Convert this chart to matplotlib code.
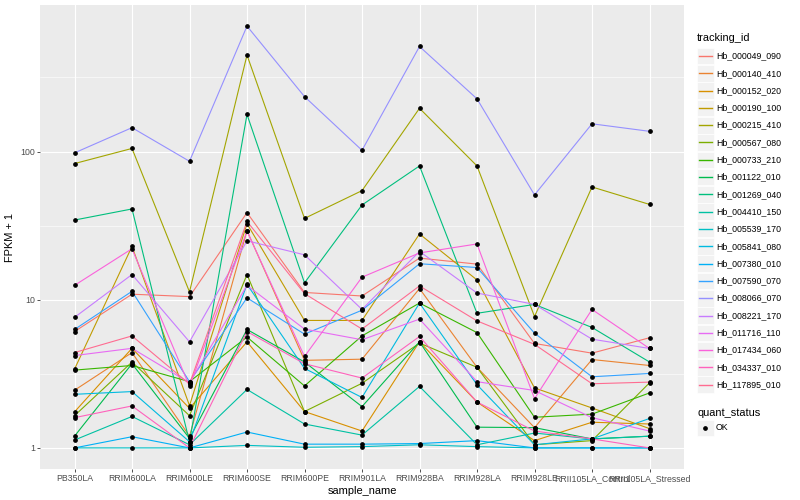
import numpy as np
import matplotlib.pyplot as plt
from matplotlib.patches import Rectangle
from matplotlib.lines import Line2D

plt.rcParams['font.family'] = ['Liberation Sans', 'DejaVu Sans']

# sample names on the x axis
samples = ['PB350LA', 'RRIM600LA', 'RRIM600LE', 'RRIM600SE', 'RRIM600PE',
           'RRIM901LA', 'RRIM928BA', 'RRIM928LA', 'RRIM928LE',
           'RRII105LA_Control', 'RRII105LA_Stressed']

# FPKM + 1 per gene
hb_000049_090 = [6.1, 10.9, 10.5, 38.7, 11.2, 10.6, 19.1, 17.4, 5.07, 4.36, 5.54]
hb_000140_410 = [2.45, 4.4, 1.2, 29.3, 3.9, 3.97, 11.9, 3.5, 1.37, 3.95, 3.6]
hb_000152_020 = [1.75, 4.7, 1.85, 5.2, 1.76, 1.30, 5.2, 2.04, 1.12, 1.49, 1.45]
hb_000190_100 = [3.4, 22.9, 1.93, 32.6, 7.25, 7.25, 27.8, 13.6, 2.54, 1.86, 1.35]
hb_000215_410 = [83, 105, 11.3, 448, 35.4, 54.5, 196, 80, 7.7, 57.7, 44]
hb_000567_080 = [1.65, 3.8, 1.65, 14.8, 1.76, 2.73, 5.1, 3.5, 1.05, 1.12, 2.75]
hb_000733_210 = [3.35, 3.6, 2.8, 5.6, 2.62, 5.7, 9.5, 6.0, 1.61, 1.69, 2.35]
hb_001122_010 = [1.2, 3.7, 1.16, 6.3, 3.8, 1.9, 5.2, 1.38, 1.37, 1.15, 1.2]
hb_001269_040 = [34.5, 41, 1.1, 178, 13, 43.6, 80, 8.1, 9.3, 6.5, 3.8]
hb_004410_150 = [1.13, 1.63, 1.05, 2.48, 1.45, 1.22, 2.6, 1.05, 1.26, 1.15, 1.2]
hb_005539_170 = [1.0, 1.0, 1.0, 1.04, 1.01, 1.02, 1.05, 1.02, 1.0, 1.0, 1.0]
hb_005841_080 = [2.3, 2.4, 1.1, 12.7, 3.44, 2.19, 9.5, 2.67, 1.05, 1.15, 1.58]
hb_007380_010 = [1.0, 1.19, 1.0, 1.28, 1.06, 1.06, 1.07, 1.12, 1.0, 1.0, 1.0]
hb_007590_070 = [6.3, 11.4, 2.8, 10.3, 5.86, 8.5, 17.5, 16.5, 5.95, 3.02, 3.18]
hb_008066_070 = [98, 145, 86, 703, 235, 102, 512, 227, 51, 154, 137]
hb_008221_170 = [7.6, 14.8, 5.2, 25, 20.1, 8.6, 21.2, 11.1, 9.3, 5.42, 4.69]
hb_011716_110 = [4.2, 4.7, 2.75, 12.5, 6.34, 5.37, 7.4, 2.8, 2.44, 1.6, 1.3]
hb_017434_060 = [12.5, 22.1, 2.6, 29, 4.14, 14.2, 20.7, 23.8, 2.15, 8.6, 4.69]
hb_034337_010 = [1.6, 1.92, 1.0, 6.1, 3.7, 2.96, 5.65, 2.04, 1.3, 1.15, 1.0]
hb_117895_010 = [4.4, 5.7, 2.7, 33.8, 11.0, 6.34, 12.4, 7.2, 5.0, 2.71, 2.78]

gene_ids = ['Hb_000049_090', 'Hb_000140_410', 'Hb_000152_020', 'Hb_000190_100',
            'Hb_000215_410', 'Hb_000567_080', 'Hb_000733_210', 'Hb_001122_010',
            'Hb_001269_040', 'Hb_004410_150', 'Hb_005539_170', 'Hb_005841_080',
            'Hb_007380_010', 'Hb_007590_070', 'Hb_008066_070', 'Hb_008221_170',
            'Hb_011716_110', 'Hb_017434_060', 'Hb_034337_010', 'Hb_117895_010']
series = [hb_000049_090, hb_000140_410, hb_000152_020, hb_000190_100,
          hb_000215_410, hb_000567_080, hb_000733_210, hb_001122_010,
          hb_001269_040, hb_004410_150, hb_005539_170, hb_005841_080,
          hb_007380_010, hb_007590_070, hb_008066_070, hb_008221_170,
          hb_011716_110, hb_017434_060, hb_034337_010, hb_117895_010]

# ggplot default hue palette for 20 groups
colors = ['#F8766D', '#EA8331', '#D89000', '#C09B00', '#A3A500', '#7CAE00',
          '#39B600', '#00BB4E', '#00BF7D', '#00C1A3', '#00BFC4', '#00BAE0',
          '#00B0F6', '#35A2FF', '#9590FF', '#C77CFF', '#E76BF3', '#FA62DB',
          '#FF62BC', '#FF6C91']

fig = plt.figure(figsize=(8, 5), dpi=100)
W, H = 800.0, 500.0
ax = fig.add_axes([40 / W, 1 - 469 / H, 644 / W, 464 / H])
ax.set_facecolor('#EBEBEB')

x = np.arange(len(samples))
for vals, col in zip(series, colors):
    ax.plot(x, vals, color=col, lw=0.8, zorder=2)
for vals in series:
    ax.plot(x, vals, linestyle='', marker='o', ms=2.4, color='black', zorder=3)

ax.set_yscale('log')
allv = np.log10(np.concatenate([np.array(s) for s in series]))
lo, hi = allv.min(), allv.max()
pad = 0.05 * (hi - lo)
ax.set_ylim(10 ** (lo - pad), 10 ** (hi + pad))
ax.set_xlim(-0.6, len(samples) - 0.4)

ax.set_yticks([1, 10, 100])
ax.set_yticklabels(['1', '10', '100'])
ax.set_yticks([10 ** 0.5, 10 ** 1.5, 10 ** 2.5], minor=True)
ax.yaxis.set_minor_formatter(plt.NullFormatter())
ax.set_xticks(x)
ax.set_xticklabels(samples)

ax.grid(True, which='major', color='white', lw=0.85)
ax.grid(True, which='minor', axis='y', color='white', lw=0.4)
ax.set_axisbelow(True)
for s in ax.spines.values():
    s.set_visible(False)
ax.tick_params(which='major', length=2.0, width=0.6, color='#333333',
               labelcolor='#4D4D4D', labelsize=6.3, pad=1.5)
ax.tick_params(which='minor', length=0)

ax.set_xlabel('sample_name', fontsize=7.9, labelpad=2)
ax.set_ylabel('FPKM + 1', fontsize=7.9, labelpad=4)

# legend for tracking_id, drawn ggplot style
def fx(px):
    return px / W

def fy(py):
    return 1 - py / H

fig.text(fx(697), fy(38), 'tracking_id', fontsize=7.9, va='center', ha='left')
step = 17.3
for i, (name, col) in enumerate(zip(gene_ids, colors)):
    yc = 56 + i * step
    fig.add_artist(Rectangle((fx(697), fy(yc + 8.3)), 16.6 / W, 16.6 / H,
                             transform=fig.transFigure, facecolor='#F2F2F2',
                             edgecolor='white', lw=0.5, zorder=1))
    fig.add_artist(Line2D([fx(698.5), fx(712)], [fy(yc), fy(yc)],
                          transform=fig.transFigure, color=col, lw=1.0, zorder=3))
    fig.text(fx(716), fy(yc), name, fontsize=6.3, va='center', ha='left')

fig.text(fx(697), fy(413), 'quant_status', fontsize=7.9, va='center', ha='left')
fig.add_artist(Rectangle((fx(697), fy(428 + 8.3)), 16.6 / W, 16.6 / H,
                         transform=fig.transFigure, facecolor='#F2F2F2',
                         edgecolor='white', lw=0.5, zorder=1))
fig.add_artist(Line2D([fx(705.3)], [fy(428)], transform=fig.transFigure,
                      marker='o', ms=2.4, color='black', linestyle='', zorder=3))
fig.text(fx(716), fy(428), 'OK', fontsize=6.3, va='center', ha='left')

fig.savefig('out.png', dpi=100)
